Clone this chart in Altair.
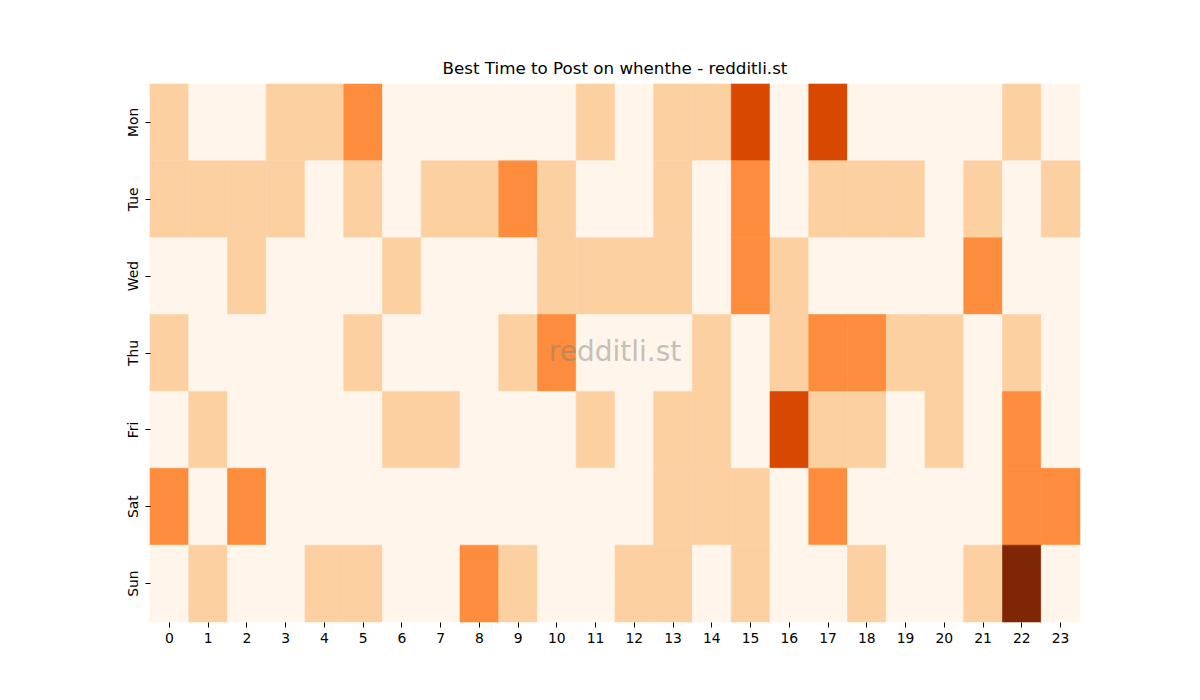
import altair as alt
import pandas as pd

# posts per weekday / hour
days = ["Mon", "Tue", "Wed", "Thu", "Fri", "Sat", "Sun"]
hours = list(range(24))

mon = [1, 0, 0, 1, 1, 2, 0, 0, 0, 0, 0, 1, 0, 1, 1, 3, 0, 3, 0, 0, 0, 0, 1, 0]
tue = [1, 1, 1, 1, 0, 1, 0, 1, 1, 2, 1, 0, 0, 1, 0, 2, 0, 1, 1, 1, 0, 1, 0, 1]
wed = [0, 0, 1, 0, 0, 0, 1, 0, 0, 0, 1, 1, 1, 1, 0, 2, 1, 0, 0, 0, 0, 2, 0, 0]
thu = [1, 0, 0, 0, 0, 1, 0, 0, 0, 1, 2, 0, 0, 0, 1, 0, 1, 2, 2, 1, 1, 0, 1, 0]
fri = [0, 1, 0, 0, 0, 0, 1, 1, 0, 0, 0, 1, 0, 1, 1, 0, 3, 1, 1, 0, 1, 0, 2, 0]
sat = [2, 0, 2, 0, 0, 0, 0, 0, 0, 0, 0, 0, 0, 1, 1, 1, 0, 2, 0, 0, 0, 0, 2, 2]
sun = [0, 1, 0, 0, 1, 1, 0, 0, 2, 1, 0, 0, 1, 1, 0, 1, 0, 0, 1, 0, 0, 1, 4, 0]

levels = [0, 1, 2, 3, 4]
oranges = ["#fff5eb", "#fdd0a2", "#fd8d3c", "#d94801", "#7f2704"]

rows = []
for day, vals in zip(days, [mon, tue, wed, thu, fri, sat, sun]):
    for h, v in zip(hours, vals):
        rows.append({"day": day, "hour": h, "count": v})
df = pd.DataFrame(rows)

cscale = alt.Scale(domain=levels, range=oranges)

heat = alt.Chart(df).mark_rect(strokeWidth=0.6).encode(
    x=alt.X("hour:O", sort=hours, title=None,
            axis=alt.Axis(labelAngle=0, domain=False, tickSize=5, tickColor="black",
                          labelFontSize=13.9, labelColor="black", labelPadding=4,
                          labelFont="DejaVu Sans")),
    y=alt.Y("day:O", sort=days, title=None,
            axis=alt.Axis(labelAngle=-90, labelAlign="center", labelBaseline="bottom",
                          domain=False, tickSize=5, tickColor="black",
                          labelFontSize=13.9, labelColor="black", labelPadding=5,
                          labelFont="DejaVu Sans")),
    color=alt.Color("count:O", scale=cscale, legend=None),
    stroke=alt.Stroke("count:O", scale=cscale, legend=None),
    tooltip=["day", "hour", "count"]
)

# watermark in the middle of the plot
mark = alt.Chart(pd.DataFrame({"t": ["redditli.st"]})).mark_text(
    fontSize=28, color="#808080", opacity=0.45, font="DejaVu Sans"
).encode(
    x=alt.value(465),
    y=alt.value(269),
    text="t:N"
)

chart = (heat + mark).properties(
    width=930,
    height=538,
    title=alt.TitleParams("Best Time to Post on whenthe - redditli.st", fontSize=16.7,
                          fontWeight="normal", font="DejaVu Sans", color="black", offset=6),
    autosize=alt.AutoSizeParams(type="none"),
    padding={"left": 142, "top": 76, "right": 112, "bottom": 70},
    background="white"
).configure_view(stroke=None).configure_scale(bandPaddingInner=0, bandPaddingOuter=0)

chart.save("out.html", embed_options={"renderer": "svg", "actions": False})
